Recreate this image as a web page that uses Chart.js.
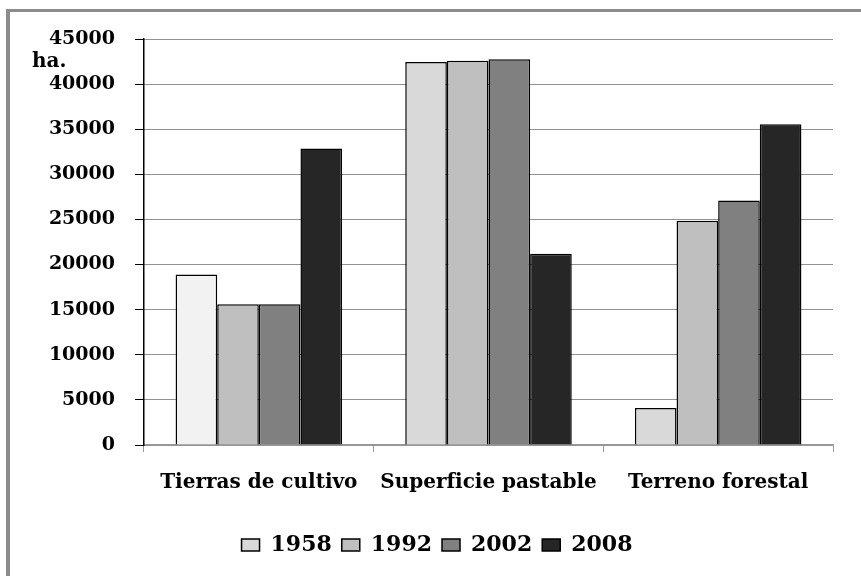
<!DOCTYPE html>
<html lang="es">
<head>
    <meta charset="UTF-8">
    <title>Uso del suelo (ha.)</title>
    <script src="https://cdn.jsdelivr.net/npm/chart.js"></script>
    <style>
        body { margin: 0; background: #fff; }
        #marco {
            position: absolute; left: 6px; top: 9px; width: 855px; height: 567px;
            border-left: 4px solid #8c8c8c; border-top: 3px solid #8c8c8c;
        }
        #wrap { position: absolute; left: 0; top: 0; width: 861px; height: 576px; }
    </style>
</head>
<body>
<div id="marco"></div>
<div id="wrap"><canvas id="grafico" width="861" height="576"></canvas></div>
<script>
    // datos (ha.)
    const categorias = ['Tierras de cultivo', 'Superficie pastable', 'Terreno forestal'];
    const anios = ['1958', '1992', '2002', '2008'];
    const v1958 = [18900, 42450, 4100];
    const v1992 = [15600, 42600, 24850];
    const v2002 = [15600, 42750, 27100];
    const v2008 = [32850, 21200, 35550];
    const yMax = 45000;
    const yPaso = 5000;

    const series = [v1958, v1992, v2002, v2008];
    const colores = ['#d9d9d9', '#bfbfbf', '#808080', '#262626'];
    const fuente = 'DejaVu Serif';

    // el 1958 de "Tierras de cultivo" sale mas claro en el original
    const colorBarra = (i) => (ctx) => {
        if (i === 0 && ctx.type === 'data' && ctx.dataIndex === 0) return '#f2f2f2';
        return colores[i];
    };

    const etiquetaHa = {
        id: 'etiquetaHa',
        afterDraw(chart) {
            const y = chart.scales.y;
            const c = chart.ctx;
            c.save();
            c.font = 'bold 20px "' + fuente + '"';
            c.fillStyle = '#000';
            c.textAlign = 'left';
            c.textBaseline = 'middle';
            c.fillText('ha.', 32, y.getPixelForValue(42500));
            c.restore();
        }
    };

    new Chart(document.getElementById('grafico'), {
        type: 'bar',
        data: {
            labels: categorias,
            datasets: series.map((d, i) => ({
                label: anios[i],
                data: d,
                backgroundColor: colorBarra(i),
                borderColor: '#000',
                borderWidth: 1.5,
                categoryPercentage: 0.725,
                barPercentage: 1
            }))
        },
        options: {
            responsive: false,
            animation: false,
            layout: { padding: { top: 39, right: 28, bottom: 10, left: 41 } },
            scales: {
                x: {
                    afterFit: (s) => { s.height = 79; },
                    grid: { drawOnChartArea: false, color: '#999', tickLength: 7, tickBorderDash: [] },
                    border: { color: '#999', width: 1.5 },
                    ticks: {
                        color: '#000',
                        padding: 19,
                        maxRotation: 0,
                        minRotation: 0,
                        autoSkip: false,
                        font: { family: fuente, size: 20, weight: 'bold' }
                    }
                },
                y: {
                    min: 0,
                    max: yMax,
                    afterFit: (s) => { s.width = 144 - 41; },
                    grid: { color: '#222', tickColor: '#000', tickLength: 9, tickBorderDash: [] },
                    border: { color: '#000', width: 1.5, dash: [1, 1] },
                    ticks: {
                        stepSize: yPaso,
                        color: '#000',
                        padding: 20,
                        font: { family: fuente, size: 19, weight: 'bold' },
                        callback: (v) => String(v)
                    }
                }
            },
            plugins: {
                legend: {
                    position: 'bottom',
                    labels: {
                        boxWidth: 18,
                        boxHeight: 12,
                        padding: 10,
                        color: '#000',
                        font: { family: fuente, size: 22, weight: 'bold' },
                        generateLabels: (chart) => Chart.defaults.plugins.legend.labels.generateLabels(chart)
                            .map((l, i) => ({ ...l, fillStyle: colores[i] }))
                    }
                },
                tooltip: { enabled: false }
            }
        },
        plugins: [etiquetaHa]
    });
</script>
</body>
</html>
